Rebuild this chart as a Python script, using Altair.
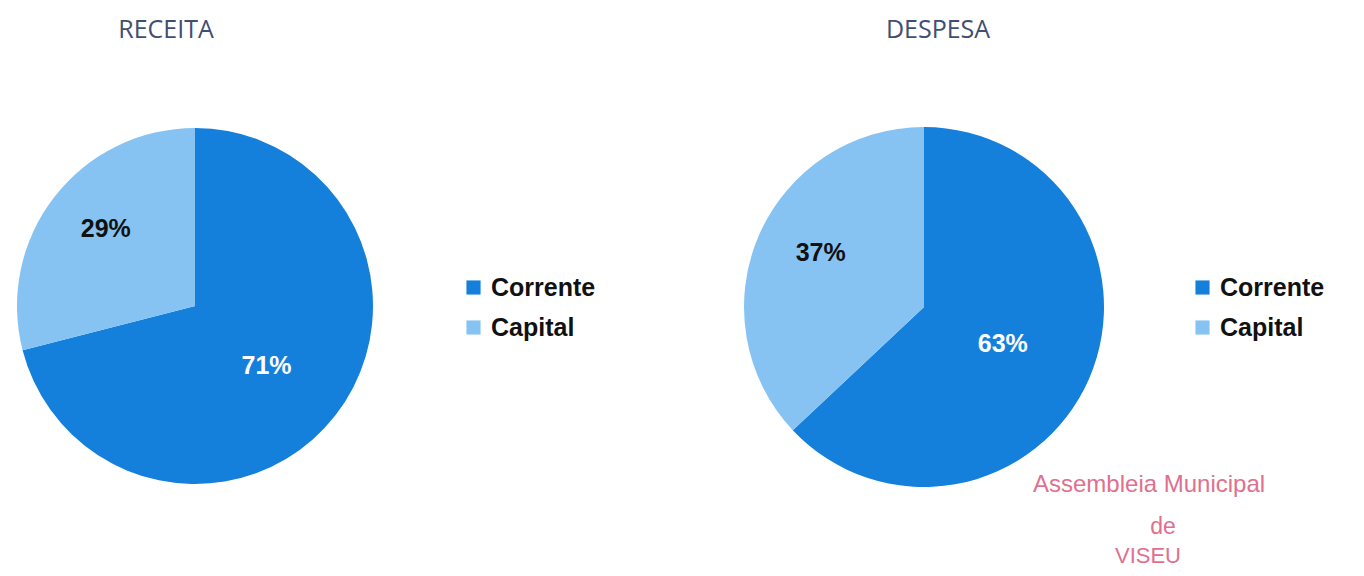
import altair as alt
import pandas as pd

categories = ["Corrente", "Capital"]
receita = [71, 29]
despesa = [63, 37]
titles = ["RECEITA", "DESPESA"]
stamp_lines = ["Assembleia Municipal", "de", "VISEU"]

colors = ["#1480dc", "#86c3f2"]

rows = []
for pie, vals in (("RECEITA", receita), ("DESPESA", despesa)):
    for i, (c, v) in enumerate(zip(categories, vals)):
        rows.append({"pie": pie, "cat": c, "value": v, "ord": i, "label": f"{v}%"})
df = pd.DataFrame(rows)

FONT = "Liberation Sans"


def pie_layers(pie, cx, cy, r, lx, ly, out_off, in_off):
    base = alt.Chart(df).transform_filter(alt.datum.pie == pie)
    theta = alt.Theta("value:Q", stack=True)
    order = alt.Order("ord:Q")
    arc = base.mark_arc(outerRadius=r, stroke=None).encode(
        theta=theta,
        order=order,
        x=alt.value(cx),
        y=alt.value(cy),
        color=alt.Color(
            "cat:N",
            scale=alt.Scale(domain=categories, range=colors),
            legend=alt.Legend(
                title=None,
                orient="none",
                legendX=lx,
                legendY=ly,
                symbolType="square",
                symbolSize=200,
                symbolStrokeWidth=0,
                labelFont=FONT,
                labelFontSize=25,
                labelFontWeight="bold",
                labelColor="#111111",
                labelOffset=5,
                rowPadding=14,
            ),
        ),
    )
    lab_out = base.mark_text(
        radius=118, font=FONT, fontSize=25, fontWeight="bold", color="#111111",
        dx=out_off[0], dy=out_off[1],
    ).encode(
        theta=theta,
        order=order,
        x=alt.value(cx),
        y=alt.value(cy),
        text=alt.condition(alt.datum.cat == "Capital", alt.Text("label:N"), alt.value("")),
    )
    lab_in = base.mark_text(
        radius=88, font=FONT, fontSize=25, fontWeight="bold", color="#ffffff",
        dx=in_off[0], dy=in_off[1],
    ).encode(
        theta=theta,
        order=order,
        x=alt.value(cx),
        y=alt.value(cy),
        text=alt.condition(alt.datum.cat == "Corrente", alt.Text("label:N"), alt.value("")),
    )
    return [arc, lab_out, lab_in]


tdf = pd.DataFrame({"t": titles})


def title_layer(t, x, y):
    return (
        alt.Chart(tdf)
        .transform_filter(alt.datum.t == t)
        .mark_text(font="Open Sans", fontSize=25, color="#3f4f74", baseline="middle")
        .encode(text="t:N", x=alt.value(x), y=alt.value(y))
    )


sdf = pd.DataFrame({"s": stamp_lines, "i": list(range(len(stamp_lines)))})


def stamp_layer(i, x, y, align, size):
    return (
        alt.Chart(sdf)
        .transform_filter(alt.datum.i == i)
        .mark_text(font=FONT, fontSize=size, color="#e0708e", baseline="middle", align=align)
        .encode(text="s:N", x=alt.value(x), y=alt.value(y))
    )


layers = []
layers += pie_layers("RECEITA", 187, 298, 178, 453, 267, (4, -5), (2, 6))
layers += pie_layers("DESPESA", 916, 299, 180, 1182, 267, (5, -7), (-2, 2))
layers += [
    title_layer("RECEITA", 158, 22),
    title_layer("DESPESA", 930, 22),
    stamp_layer(0, 1025, 477, "left", 24),
    stamp_layer(1, 1155, 519, "center", 23),
    stamp_layer(2, 1140, 548, "center", 22),
]

chart = (
    alt.layer(*layers)
    .resolve_scale(color="independent")
    .properties(width=1348, height=566, autosize="none", padding=0, background="white")
    .configure_view(stroke=None)
)

chart.save("out.html", embed_options={"renderer": "svg", "actions": False})
